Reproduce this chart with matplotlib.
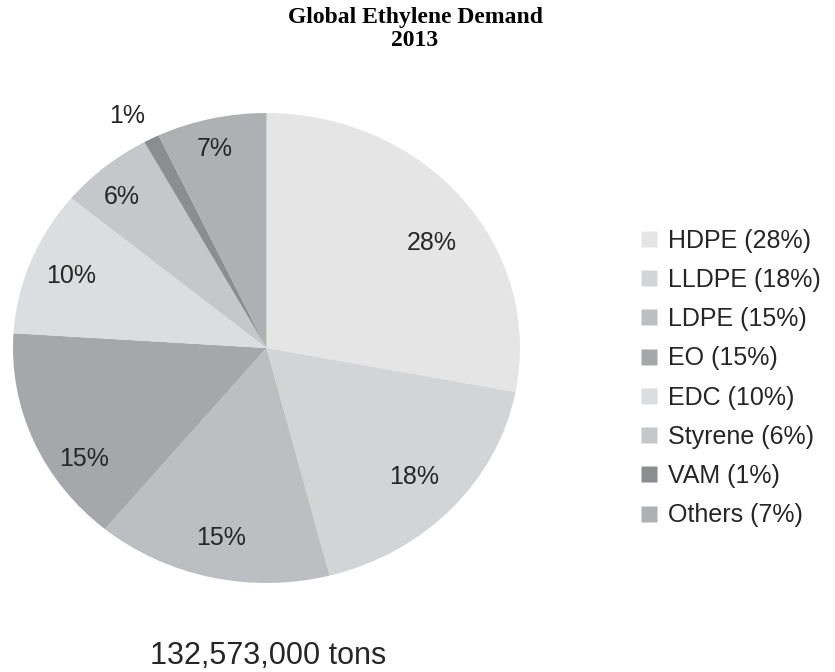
import numpy as np
import matplotlib.pyplot as plt
from matplotlib.lines import Line2D

# Дані
labels = ['HDPE', 'LLDPE', 'LDPE', 'EO', 'EDC', 'Styrene', 'VAM', 'Others']
shares = [28, 18, 15, 15, 10, 6, 1, 7]
colors = ['#e5e5e6', '#d3d4d6', '#bdbec1', '#a6a7aa', '#dcdde0', '#c6c7ca', '#8c8d90', '#afb0b3']
total_text = '132,573,000 tons'

# Розташування підписів: відстань від центру та зсув кута (градуси)
label_r = [0.79, 0.80, 0.83, 0.86, 0.83, 0.86, 1.13, 0.87]
label_shift = [-5, 0, 0, 10, 0, 2, 2, 1]

plt.rcParams['font.family'] = ['Liberation Sans', 'DejaVu Sans']

fig = plt.figure(figsize=(8.35, 6.72), dpi=100)
W, H = 835, 672
ax = fig.add_axes([13 / W, (H - 583) / H, 507 / W, 470 / H])

wedges, _ = ax.pie(shares, colors=colors, startangle=90, counterclock=False,
                   radius=1, wedgeprops=dict(linewidth=0))
ax.set_aspect('auto')
ax.set_xlim(-1, 1)
ax.set_ylim(-1, 1)

# Підписи відсотків
for w, s, r, d in zip(wedges, shares, label_r, label_shift):
    ang = np.deg2rad((w.theta1 + w.theta2) / 2 + d)
    ax.text(r * np.cos(ang), r * np.sin(ang), f'{s}%', ha='center', va='center',
            fontsize=18, color='#262626')

fig.text(268 / W, 1 - 656 / H, total_text, ha='center', va='center',
         fontsize=22, color='#262626')

fig.text(415 / W, 1 - 17 / H, 'Global Ethylene Demand', ha='center', va='center',
         fontsize=17, fontweight='bold', family='Liberation Serif')
fig.text(415 / W, 1 - 40 / H, '2013', ha='center', va='center',
         fontsize=17, fontweight='bold', family='Liberation Serif')

handles = [Line2D([0], [0], marker='s', linestyle='none', markersize=11,
                  markerfacecolor=c, markeredgecolor='none') for c in colors]
leg_labels = [f'{l} ({s}%)' for l, s in zip(labels, shares)]
fig.legend(handles, leg_labels, loc='center left', bbox_to_anchor=(619 / W, 1 - 378 / H),
           frameon=False, fontsize=18, labelspacing=0.61, handlelength=0.6,
           handletextpad=0.45, labelcolor='#262626')

fig.savefig('out.png', dpi=100)
